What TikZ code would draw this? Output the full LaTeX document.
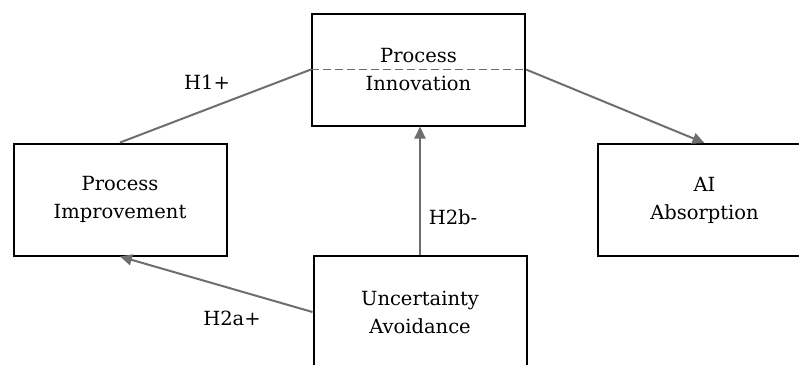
\documentclass[tikz,border=0pt]{standalone}
\usepackage{fontspec}
\setmainfont{DejaVu Serif}
\usetikzlibrary{arrows.meta}
\definecolor{conn}{HTML}{6E6E6E}
\tikzset{
  box/.style={draw=black, line width=2pt, minimum width=213pt, minimum height=112pt, inner sep=0pt, align=center, font=\fontsize{19.5}{28}\selectfont},
  link/.style={draw=conn, line width=2pt},
  arr/.style={link, -{Triangle[length=12pt,width=11pt]}},
  lbl/.style={font=\fontsize{19.5}{28}\selectfont, inner sep=0pt}
}
\begin{document}
\begin{tikzpicture}[x=1pt,y=-1pt]
\useasboundingbox (0,0) rectangle (799,364);
\clip (0,0) rectangle (799,364);
\node[box] (PI) at (418.5,69.5) {Process\\Innovation};
\node[box] (PImp) at (120,199.5) {Process\\Improvement};
\node[box] (AI) at (704.5,200) {AI\\Absorption};
\node[box] (UA) at (420,312) {Uncertainty\\Avoidance};
\draw[conn, line width=1.6pt, dash pattern=on 8pt off 4pt] (PI.west) -- (PI.east);
\draw[link] (PI.west) -- (PImp.north);
\draw[arr] (PI.east) -- (AI.north);
\draw[arr] (UA.north) -- (UA.north |- PI.south);
\draw[arr] (UA.west) -- (PImp.south);
\node[lbl] (h1) at (207,82) {H1+};
\node[lbl] (h2b) at (453,217) {H2b-};
\node[lbl] (h2a) at (232,318) {H2a+};
\end{tikzpicture}
\end{document}
